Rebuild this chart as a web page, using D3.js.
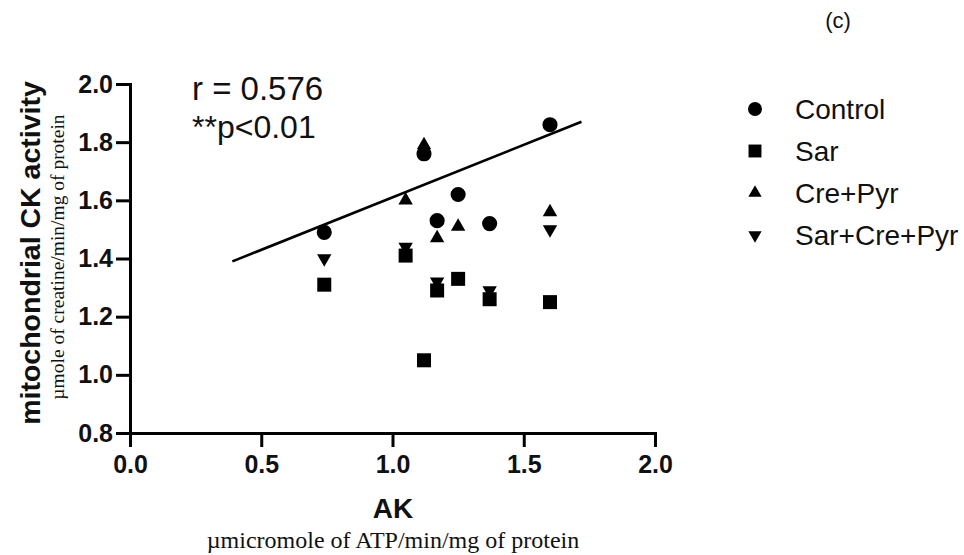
<!DOCTYPE html>
<html>
<head>
<meta charset="utf-8">
<script src="https://cdn.jsdelivr.net/npm/d3@7"></script>
<style>
  html, body { margin: 0; padding: 0; background: #fff; }
  svg { display: block; }
</style>
</head>
<body>
<svg id="chart" width="964" height="555"></svg>
<script>
// ---- data ----
const seriesNames = ["Control", "Sar", "Cre+Pyr", "Sar+Cre+Pyr"];
const controlX = [0.74, 1.12, 1.17, 1.25, 1.37, 1.60];
const controlY = [1.49, 1.76, 1.53, 1.62, 1.52, 1.86];
const sarX = [0.74, 1.05, 1.12, 1.17, 1.25, 1.37, 1.60];
const sarY = [1.31, 1.41, 1.05, 1.29, 1.33, 1.26, 1.25];
const crePyrX = [1.05, 1.12, 1.17, 1.25, 1.60];
const crePyrY = [1.60, 1.79, 1.47, 1.51, 1.56];
const sarCrePyrX = [0.74, 1.05, 1.17, 1.37, 1.60];
const sarCrePyrY = [1.40, 1.44, 1.32, 1.29, 1.50];
const fitX = [0.39, 1.72];
const fitY = [1.39, 1.87];
const xTicks = [0.0, 0.5, 1.0, 1.5, 2.0];
const yTicks = [0.8, 1.0, 1.2, 1.4, 1.6, 1.8, 2.0];
const statR = "r = 0.576";
const statP = "**p<0.01";

// ---- setup ----
const svg = d3.select("#chart");
const sans = "'Liberation Sans', Arial, Helvetica, sans-serif";
const serif = "'Liberation Serif', 'Times New Roman', serif";

const x = d3.scaleLinear().domain([0, 2]).range([130, 655]);
const y = d3.scaleLinear().domain([0.8, 2.0]).range([433, 84]);

const shapes = [
  { type: d3.symbolCircle, size: 180, rot: 0 },
  { type: d3.symbolSquare, size: 196, rot: 0 },
  { type: d3.symbolTriangle, size: 90, rot: 0 },
  { type: d3.symbolTriangle, size: 90, rot: 180 }
];
const seriesX = [controlX, sarX, crePyrX, sarCrePyrX];
const seriesY = [controlY, sarY, crePyrY, sarCrePyrY];

// ---- axes ----
const xAxis = d3.axisBottom(x).tickValues(xTicks).tickFormat(d3.format(".1f"))
  .tickSize(14).tickSizeOuter(0).tickPadding(8);
const yAxis = d3.axisLeft(y).tickValues(yTicks).tickFormat(d3.format(".1f"))
  .tickSize(14).tickSizeOuter(0).tickPadding(3);

const gx = svg.append("g").attr("transform", `translate(0,${y(0.8)})`).call(xAxis);
const gy = svg.append("g").attr("transform", `translate(${x(0)},0)`).call(yAxis);

[gx, gy].forEach(g => {
  g.select(".domain").attr("stroke", "#000").attr("stroke-width", 3).attr("stroke-linecap", "square");
  g.selectAll(".tick line").attr("stroke", "#000").attr("stroke-width", 3);
  g.selectAll(".tick text").attr("fill", "#111").style("font-family", sans)
    .style("font-weight", "bold").style("font-size", "25px");
});

// ---- regression line ----
svg.append("line")
  .attr("x1", x(fitX[0])).attr("y1", y(fitY[0]))
  .attr("x2", x(fitX[1])).attr("y2", y(fitY[1]))
  .attr("stroke", "#000").attr("stroke-width", 2.6);

// ---- points ----
seriesX.forEach((xs, i) => {
  const s = shapes[i];
  const path = d3.symbol().type(s.type).size(s.size)();
  svg.append("g").selectAll("path")
    .data(xs.map((v, j) => [v, seriesY[i][j]]))
    .join("path")
    .attr("d", path)
    .attr("transform", d => `translate(${x(d[0])},${y(d[1])}) rotate(${s.rot})`)
    .attr("fill", "#000");
});

// ---- stats text ----
svg.append("text").attr("x", 192).attr("y", 100).text(statR)
  .style("font-family", sans).style("font-size", "33px").attr("fill", "#111");
svg.append("text").attr("x", 192).attr("y", 138).text(statP)
  .style("font-family", sans).style("font-size", "32px").attr("fill", "#111");

// ---- legend ----
const lg = svg.append("g");
seriesNames.forEach((name, i) => {
  const cy = 109 + i * 42;
  const s = shapes[i];
  lg.append("path")
    .attr("d", d3.symbol().type(s.type).size(s.size * 0.85)())
    .attr("transform", `translate(755,${cy}) rotate(${s.rot})`)
    .attr("fill", "#000");
  lg.append("text").attr("x", 795).attr("y", cy + 10).text(name)
    .style("font-family", sans).style("font-size", "28px").attr("fill", "#111");
});

// ---- axis titles ----
svg.append("text").attr("x", 393).attr("y", 518).attr("text-anchor", "middle").text("AK")
  .style("font-family", sans).style("font-weight", "bold").style("font-size", "28px").attr("fill", "#111");
svg.append("text").attr("x", 393).attr("y", 548).attr("text-anchor", "middle")
  .text("µmicromole of ATP/min/mg of protein")
  .style("font-family", serif).style("font-size", "24px").attr("fill", "#111");

svg.append("text").attr("transform", "translate(40,253) rotate(-90)")
  .attr("text-anchor", "middle").text("mitochondrial CK activity")
  .style("font-family", sans).style("font-weight", "bold").style("font-size", "28.5px").attr("fill", "#111");
svg.append("text").attr("transform", "translate(64,257) rotate(-90)")
  .attr("text-anchor", "middle").text("µmole of creatine/min/mg of protein")
  .style("font-family", serif).style("font-size", "19.5px").attr("fill", "#111");

// ---- panel label ----
svg.append("text").attr("x", 838).attr("y", 28).attr("text-anchor", "middle").text("(c)")
  .style("font-family", sans).style("font-size", "22px").attr("fill", "#111");
</script>
</body>
</html>
